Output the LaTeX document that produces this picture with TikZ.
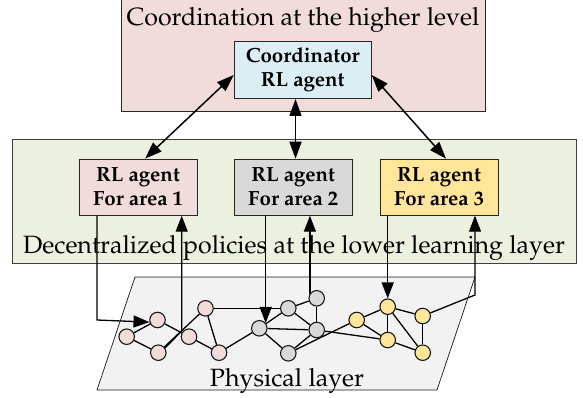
\documentclass[tikz,border=0pt]{standalone}
\usepackage[T1]{fontenc}
\usepackage{mathpazo}
\usepackage{tikz}
\usetikzlibrary{arrows.meta,positioning,calc}
\pgfdeclarelayer{bg}
\pgfdeclarelayer{edges}
\pgfsetlayers{bg,edges,main}

\definecolor{toppink}{RGB}{242,220,219}
\definecolor{lowgreen}{RGB}{235,241,222}
\definecolor{coordblue}{RGB}{218,238,243}
\definecolor{midgray}{RGB}{217,217,217}
\definecolor{sunyellow}{RGB}{255,230,153}
\definecolor{physgray}{RGB}{242,242,242}

\begin{document}
\begin{tikzpicture}[x=1pt,y=-1pt,{agent/.style={rectangle,draw=black!85,line width=1pt,minimum width=118pt,minimum height=56pt,align=center,inner sep=1pt,font=\fontsize{20.5}{24}\selectfont\bfseries}},{dot/.style={circle,draw=black!90,line width=1.1pt,minimum size=15.5pt,inner sep=0pt}},{link/.style={line width=1.3pt}},{arr/.style={line width=1.3pt,-{Triangle[length=16pt,width=12pt]}}},{dbl/.style={line width=1.5pt,{Triangle[length=17pt,width=12pt]}-{Triangle[length=17pt,width=12pt]}}},{layertxt/.style={font=\fontsize{25}{29}\selectfont,anchor=base}}]
	\useasboundingbox (0,0) rectangle (583,398);

	%%layers
	\begin{pgfonlayer}{bg}
	\draw [draw=black!85,fill=toppink,line width=1pt](121,-3) rectangle (485,111.7);
	\draw [draw=black!75,fill=lowgreen,line width=1pt](12,140) rectangle (576,263);
	\draw [draw=black!90,fill=physgray,line width=0.7pt](135,277) -- (475,277) -- (437,390) -- (97,390) -- cycle;
	\end{pgfonlayer}
	\node [layertxt] (hightxt) at (303,26) {Coordination at the higher level};
	\node [layertxt] (lowtxt) at (294,253) {Decentralized policies at the lower learning layer};
	\node [layertxt] (phystxt) at (287,386.7) {Physical layer};

	%%agents
	\node [agent,fill=coordblue,minimum width=137pt,minimum height=57pt] (coord) at (302.7,70) {Coordinator\\RL agent};
	\node [agent,fill=toppink] (area1) at (138,187.2) {RL agent\\For area 1};
	\node [agent,fill=midgray] (area2) at (293.2,187.2) {RL agent\\For area 2};
	\node [agent,fill=sunyellow] (area3) at (439,187.2) {RL agent\\For area 3};

	%%buses
	\foreach \nm/\x/\y in {a1/126.7/336.7,a2/157.5/320,a3/158.3/352.7,a4/189/336.7,a5/205.5/308.3,a6/219/352.7}
		\node [dot,fill=toppink] (\nm) at (\x,\y) {};
	\foreach \nm/\x/\y in {b1/259.3/328.3,b2/288.3/308.3,b3/316.7/298.3,b4/316.7/330,b5/288.3/353.3}
		\node [dot,fill=midgray] (\nm) at (\x,\y) {};
	\foreach \nm/\x/\y in {c1/356.7/320,c2/387.7/306.7,c3/387.7/340,c4/422.7/316,c5/422.7/352.7}
		\node [dot,fill=sunyellow] (\nm) at (\x,\y) {};

	%%lines
	\begin{pgfonlayer}{edges}
	\foreach \p/\q in {a1/a2,a1/a3,a2/a4,a4/a6,a3/a5,a5/a6,a5/b2,a6/b1,b1/b2,b2/b3,b3/b4,b2/b4,b1/b4,b1/b5,b5/b4,b4/c3,b5/c1,c1/c2,c1/c3,c2/c3,c2/c4,c2/c5,c3/c5,c4/c5}
		\draw [link] (\p) -- (\q);
	\end{pgfonlayer}

	%%actions and measurements
	\coordinate (down1) at (97,320);
	\coordinate (up1) at (181.7,331);
	\coordinate (up3) at (475,295);
	\draw [arr] (area1.south -| down1) -- (down1) -- (a2.195);
	\draw [arr] (a3.35) -- (up1) -- (up1 |- area1.south);
	\draw [arr] (area2.south -| b1.40) -- (b1.40);
	\draw [arr] (b3.145) -- (b3.145 |- area2.south);
	\draw [arr] (area3.south -| c2.north) -- (c2.north);
	\draw [arr] (c4) -- (up3) -- (up3 |- area3.south);

	%%coordination
	\coordinate (mid) at (295.5,0);
	\draw [dbl] ([yshift=-5pt]coord.west) -- ([xshift=7pt]area1.north);
	\draw [dbl] (mid |- coord.south) -- (mid |- area2.north);
	\draw [dbl] ([yshift=-5pt]coord.east) -- ([xshift=7pt]area3.north);
\end{tikzpicture}
\end{document}
